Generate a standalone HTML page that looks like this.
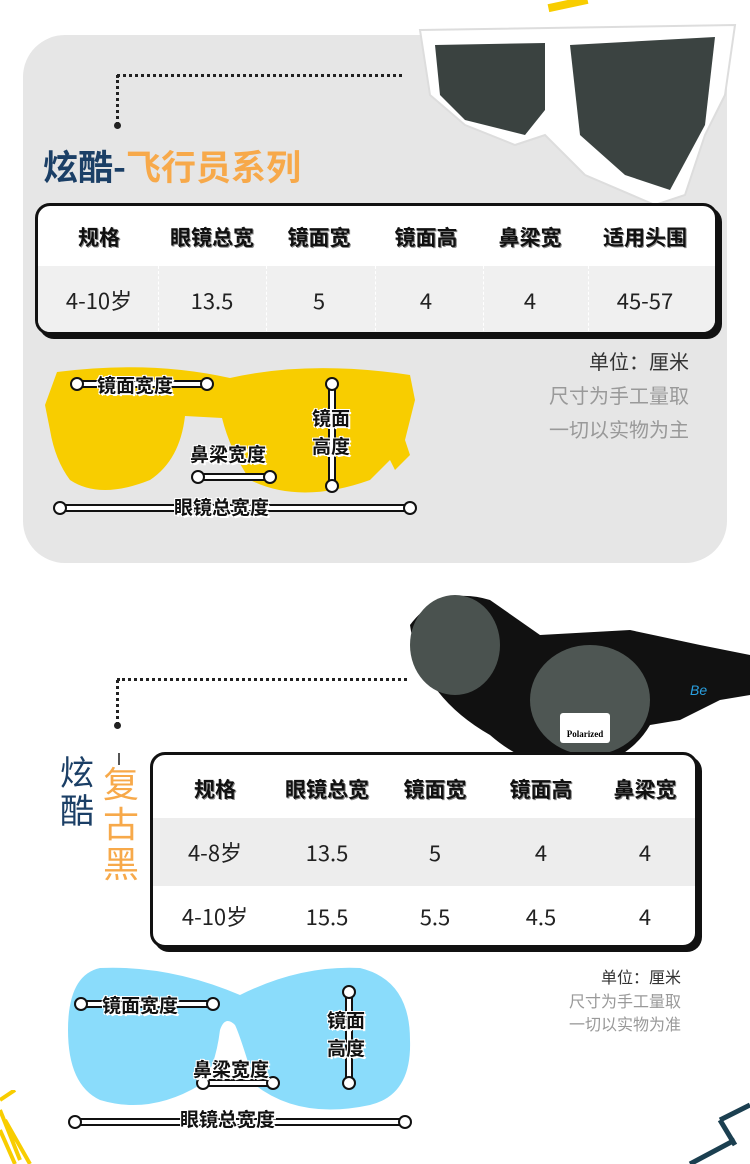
<!DOCTYPE html>
<html><head><meta charset="utf-8"><style>
*{margin:0;padding:0;box-sizing:border-box}
body{width:750px;height:1164px;background:#fff;position:relative;overflow:hidden;font-family:"Noto Sans CJK SC","Liberation Sans",sans-serif}
.a{position:absolute}
.t{position:absolute;white-space:nowrap}
.hd{font-weight:bold;color:#111;text-shadow:1px 1px 0 #888,-1px 0 0 #fff}
.lb{font-weight:bold;color:#111;text-shadow:-1px -1px 0 #fff,1px -1px 0 #fff,-1px 1px 0 #fff,1px 1px 0 #fff,2px 2px 0 #fff;font-size:19px}
.c{transform:translateX(-50%);text-align:center}
.n{font-size:22px;color:#222}
</style></head><body>
<div class="a" style="left:548px;top:0;width:40px;height:8px;background:#f8cd00;transform:rotate(-12deg)"></div>
<div class="a" style="left:23px;top:35px;width:704px;height:528px;background:#e6e6e6;border-radius:42px"></div>
<div class="a" style="left:117px;top:74px;width:285px;border-top:3px dotted #222"></div>
<div class="a" style="left:116px;top:75px;height:50px;border-left:3px dotted #222"></div>
<div class="a" style="left:114px;top:122px;width:7px;height:7px;background:#222;border-radius:50%"></div>
<svg class="a" style="left:405px;top:15px" width="345" height="200" viewBox="0 0 345 200">
<path d="M15 15 L330 10 L320 80 L300 120 L280 180 L250 190 L180 160 L140 120 L110 130 L60 110 L25 80 Z" fill="#fff" stroke="#ddd" stroke-width="2"/>
<path d="M30 30 L140 28 L140 95 L120 120 L60 105 L35 80 Z" fill="#3a4240"/>
<path d="M165 30 L310 22 L300 110 L265 175 L220 160 L175 120 Z" fill="#3b4341"/>
</svg>
<div class="t" style="left:43px;top:140px;font-size:35px;font-weight:bold;color:#1b3f66">炫酷-<span style="color:#f7a94a">飞行员系列</span></div>
<div class="a" style="left:39px;top:207px;width:683px;height:132px;background:#111;border-radius:15px"></div>
<div class="a" style="left:35px;top:203px;width:683px;height:132px;background:#fff;border:3px solid #111;border-radius:15px;overflow:hidden">
<div class="a" style="left:0;top:60px;width:680px;height:70px;background:#f0f0f0"></div>
<div class="a" style="left:120px;top:60px;height:70px;border-left:1px dashed #fff"></div>
<div class="a" style="left:228px;top:60px;height:70px;border-left:1px dashed #fff"></div>
<div class="a" style="left:337px;top:60px;height:70px;border-left:1px dashed #fff"></div>
<div class="a" style="left:445px;top:60px;height:70px;border-left:1px dashed #fff"></div>
<div class="a" style="left:550px;top:60px;height:70px;border-left:1px dashed #fff"></div>
</div>
<div class="t hd c" style="left:99px;top:222px;font-size:21px">规格</div>
<div class="t hd c" style="left:212px;top:222px;font-size:21px">眼镜总宽</div>
<div class="t hd c" style="left:319px;top:222px;font-size:21px">镜面宽</div>
<div class="t hd c" style="left:426px;top:222px;font-size:21px">镜面高</div>
<div class="t hd c" style="left:530px;top:222px;font-size:21px">鼻梁宽</div>
<div class="t hd c" style="left:645px;top:222px;font-size:21px">适用头围</div>
<div class="t c n" style="left:99px;top:284px">4-10岁</div>
<div class="t c n" style="left:212px;top:284px">13.5</div>
<div class="t c n" style="left:319px;top:284px">5</div>
<div class="t c n" style="left:426px;top:284px">4</div>
<div class="t c n" style="left:530px;top:284px">4</div>
<div class="t c n" style="left:645px;top:284px">45-57</div>
<div class="t" style="right:61px;top:346px;font-size:20px;color:#333">单位：厘米</div>
<div class="t" style="right:61px;top:380px;font-size:20px;color:#999">尺寸为手工量取</div>
<div class="t" style="right:61px;top:414px;font-size:20px;color:#999">一切以实物为主</div>
<svg class="a" style="left:0;top:360px" width="430" height="170">
<path d="M57 12 Q150 0 230 18 Q310 0 410 15 L415 40 L405 80 L410 95 L395 110 L390 100 L370 120 Q300 145 250 120 Q230 90 222 58 L185 56 Q180 100 150 120 Q100 140 70 120 Q55 100 50 70 L45 45 Z" fill="#f8cd00"/>
<g stroke="#111" stroke-width="8" stroke-linecap="round" fill="none"><line x1="60" y1="148" x2="410" y2="148"/><line x1="198" y1="117" x2="270" y2="117"/><line x1="332" y1="24" x2="332" y2="126"/><line x1="77" y1="24" x2="207" y2="24"/></g>
<g stroke="#fff" stroke-width="4" stroke-linecap="round" fill="none"><line x1="60" y1="148" x2="410" y2="148"/><line x1="198" y1="117" x2="270" y2="117"/><line x1="332" y1="24" x2="332" y2="126"/><line x1="77" y1="24" x2="207" y2="24"/></g>
<g fill="#fff" stroke="#111" stroke-width="2"><circle cx="60" cy="148" r="6"/><circle cx="410" cy="148" r="6"/><circle cx="198" cy="117" r="6"/><circle cx="270" cy="117" r="6"/><circle cx="332" cy="24" r="6"/><circle cx="332" cy="126" r="6"/><circle cx="77" cy="24" r="6"/><circle cx="207" cy="24" r="6"/></g>
</svg>
<div class="t lb" style="left:97px;top:371px">镜面宽度</div>
<div class="t lb" style="left:190px;top:440px">鼻梁宽度</div>
<div class="t lb" style="left:312px;top:404px;line-height:28px">镜面<br>高度</div>
<div class="t lb" style="left:174px;top:493px">眼镜总宽度</div>
<div class="a" style="left:117px;top:678px;width:290px;border-top:3px dotted #222"></div>
<div class="a" style="left:116px;top:680px;height:45px;border-left:3px dotted #222"></div>
<div class="a" style="left:114px;top:722px;width:7px;height:7px;background:#222;border-radius:50%"></div>
<svg class="a" style="left:400px;top:585px" width="350" height="190">
<path d="M10 40 Q40 0 90 15 L140 50 L230 45 L300 60 L350 70 L350 110 L320 115 L280 135 L250 140 Q230 175 180 185 Q130 185 90 150 Q20 110 10 40 Z" fill="#111"/>
<ellipse cx="55" cy="60" rx="45" ry="50" fill="#4a524f"/>
<ellipse cx="190" cy="115" rx="60" ry="55" fill="#4e5653"/>
<rect x="160" y="128" width="50" height="30" fill="#fff" rx="3"/>
<text x="185" y="152" font-size="9" text-anchor="middle" font-family="Liberation Serif" font-weight="bold">Polarized</text>
<text x="290" y="110" font-size="14" fill="#2aa0e0" font-style="italic" font-family="Liberation Sans">Be</text>
</svg>
<div class="t" style="left:60px;top:752px;font-size:34px;color:#1b3f66;line-height:38px">炫<br>酷</div>
<div class="a" style="left:118px;top:753px;width:2px;height:12px;background:#555"></div>
<div class="t" style="left:103px;top:762px;font-size:36px;color:#f7a94a;line-height:40px">复<br>古<br>黑</div>
<div class="a" style="left:154px;top:756px;width:548px;height:196px;background:#111;border-radius:15px"></div>
<div class="a" style="left:150px;top:752px;width:548px;height:196px;background:#fff;border:3px solid #111;border-radius:15px;overflow:hidden">
<div class="a" style="left:0;top:63px;width:545px;height:68px;background:#ededed"></div>
</div>
<div class="t hd c" style="left:215px;top:774px;font-size:21px">规格</div>
<div class="t hd c" style="left:327px;top:774px;font-size:21px">眼镜总宽</div>
<div class="t hd c" style="left:435px;top:774px;font-size:21px">镜面宽</div>
<div class="t hd c" style="left:541px;top:774px;font-size:21px">镜面高</div>
<div class="t hd c" style="left:645px;top:774px;font-size:21px">鼻梁宽</div>
<div class="t c n" style="left:215px;top:836px">4-8岁</div>
<div class="t c n" style="left:327px;top:836px">13.5</div>
<div class="t c n" style="left:435px;top:836px">5</div>
<div class="t c n" style="left:541px;top:836px">4</div>
<div class="t c n" style="left:645px;top:836px">4</div>
<div class="t c n" style="left:215px;top:900px">4-10岁</div>
<div class="t c n" style="left:327px;top:900px">15.5</div>
<div class="t c n" style="left:435px;top:900px">5.5</div>
<div class="t c n" style="left:541px;top:900px">4.5</div>
<div class="t c n" style="left:645px;top:900px">4</div>
<div class="t" style="right:69px;top:964px;font-size:16px;color:#333">单位：厘米</div>
<div class="t" style="right:69px;top:988px;font-size:16px;color:#999">尺寸为手工量取</div>
<div class="t" style="right:69px;top:1011px;font-size:16px;color:#999">一切以实物为准</div>
<svg class="a" style="left:0;top:960px" width="430" height="180">
<path d="M100 8 Q170 5 240 35 Q300 5 360 8 Q410 20 410 80 Q412 135 370 145 Q300 160 255 125 Q240 75 235 65 Q225 55 220 70 Q215 110 200 125 Q150 155 100 140 Q68 125 68 70 Q68 15 100 8 Z" fill="#8adcfb"/>
<g stroke="#111" stroke-width="8" stroke-linecap="round" fill="none"><line x1="75" y1="162" x2="405" y2="162"/><line x1="203" y1="123" x2="273" y2="123"/><line x1="349" y1="32" x2="349" y2="123"/><line x1="81" y1="44" x2="213" y2="44"/></g>
<g stroke="#fff" stroke-width="4" stroke-linecap="round" fill="none"><line x1="75" y1="162" x2="405" y2="162"/><line x1="203" y1="123" x2="273" y2="123"/><line x1="349" y1="32" x2="349" y2="123"/><line x1="81" y1="44" x2="213" y2="44"/></g>
<g fill="#fff" stroke="#111" stroke-width="2"><circle cx="75" cy="162" r="6"/><circle cx="405" cy="162" r="6"/><circle cx="203" cy="123" r="6"/><circle cx="273" cy="123" r="6"/><circle cx="349" cy="32" r="6"/><circle cx="349" cy="123" r="6"/><circle cx="81" cy="44" r="6"/><circle cx="213" cy="44" r="6"/></g>
</svg>
<div class="t lb" style="left:102px;top:991px">镜面宽度</div>
<div class="t lb" style="left:193px;top:1055px">鼻梁宽度</div>
<div class="t lb" style="left:327px;top:1006px;line-height:28px">镜面<br>高度</div>
<div class="t lb" style="left:180px;top:1105px">眼镜总宽度</div>
<svg class="a" style="left:0;top:1090px" width="60" height="74"><path d="M0 10 L15 0 M0 20 L20 70 M5 30 L30 74 M0 40 L15 74" stroke="#f8cd00" stroke-width="4" fill="none"/></svg>
<svg class="a" style="left:680px;top:1100px" width="70" height="64"><path d="M40 20 L70 5 M40 20 L55 45 M55 40 L10 64" stroke="#1b3f50" stroke-width="5" fill="none"/></svg>
</body></html>
